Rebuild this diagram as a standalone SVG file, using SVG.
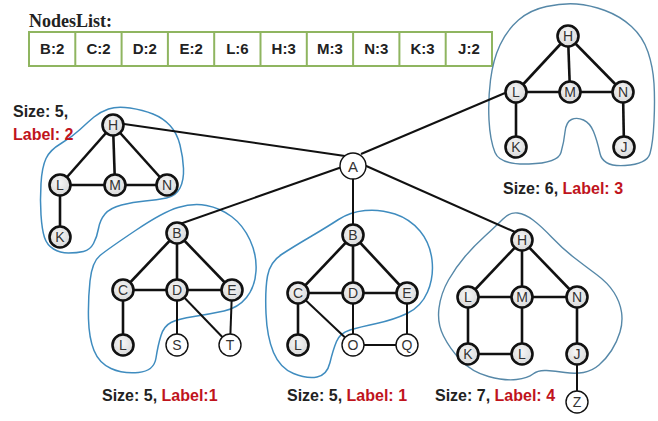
<svg xmlns="http://www.w3.org/2000/svg" width="658" height="421" viewBox="0 0 658 421">
<defs>
<radialGradient id="ng" cx="0.45" cy="0.4" r="0.6">
<stop offset="0" stop-color="#f7f7f7"/>
<stop offset="1" stop-color="#d9d9d9"/>
</radialGradient>
</defs>
<style>
.n circle{fill:url(#ng);stroke:#111;stroke-width:2.6}
.w circle{fill:#fff;stroke:#111;stroke-width:1.4}
.n text,.w text{font-family:"Liberation Sans",Arial,sans-serif;font-size:14px;fill:#333;text-anchor:middle}
.e line{stroke:#111;stroke-width:2.6}
.a line{stroke:#111;stroke-width:2}
.blob{fill:none;stroke:#3f8cbf;stroke-width:1.5}
.blob2{fill:none;stroke:#5688a8;stroke-width:1.4}
.lbl{font-family:"Liberation Sans",Arial,sans-serif;font-size:16px;font-weight:bold;fill:#222}
.red{fill:#c0141c}
.cell{font-family:"Liberation Sans",Arial,sans-serif;font-size:15px;font-weight:bold;fill:#222;text-anchor:middle}
.tb{fill:#fff;stroke:#8fb560;stroke-width:2}
</style>
<rect width="658" height="421" fill="#fff"/>

<g id="nodeslist">
<text x="29" y="27" font-family="Liberation Serif,Times New Roman,serif" font-size="18" font-weight="bold" fill="#222">NodesList:</text>
<rect class="tb" x="29" y="32" width="463" height="34"/>
<g stroke="#8fb560" stroke-width="2">
<line x1="75.3" y1="32" x2="75.3" y2="66"/><line x1="121.6" y1="32" x2="121.6" y2="66"/><line x1="167.9" y1="32" x2="167.9" y2="66"/><line x1="214.2" y1="32" x2="214.2" y2="66"/><line x1="260.5" y1="32" x2="260.5" y2="66"/><line x1="306.8" y1="32" x2="306.8" y2="66"/><line x1="353.1" y1="32" x2="353.1" y2="66"/><line x1="399.4" y1="32" x2="399.4" y2="66"/><line x1="445.7" y1="32" x2="445.7" y2="66"/>
</g>
<text class="cell" x="52.2" y="54">B:2</text><text class="cell" x="98.5" y="54">C:2</text><text class="cell" x="144.8" y="54">D:2</text><text class="cell" x="191.1" y="54">E:2</text><text class="cell" x="237.4" y="54">L:6</text><text class="cell" x="283.7" y="54">H:3</text><text class="cell" x="330" y="54">M:3</text><text class="cell" x="376.3" y="54">N:3</text><text class="cell" x="422.6" y="54">K:3</text><text class="cell" x="468.9" y="54">J:2</text>
</g>

<g id="outlines">
<path class="blob2" d="M546.5,6.5 Q563,3 576.5,4 Q590,5 605,10.5 Q620,16 631.5,26.5 Q643,37 648,52 Q653,67 654,83.5 Q655,100 654,121.5 Q653,143 650,153.5 Q647,164 625,165.5 Q603,167 600,153.5 Q597,140 593.5,131.5 Q590,123 583.5,120 Q577,117 571.5,119.5 Q566,122 565,132 Q564,142 561,152.5 Q558,163 529,164 Q500,165 495,152.5 Q490,140 489,120 Q488,100 490.5,80 Q493,60 500,45 Q507,30 518.5,20 Q530,10 546.5,6.5 Z"/>
<path class="blob" d="M94,117 Q100,112 108.5,109 Q117,106 130,108 Q143,110 153,114 Q163,118 170,125.5 Q177,133 180,145 Q183,157 183.5,168.5 Q184,180 180,188 Q176,196 166.5,198 Q157,200 145,201 Q133,202 121.5,205 Q110,208 105,214 Q100,220 98.5,228.5 Q97,237 93.5,243.5 Q90,250 83.5,251.5 Q77,253 68.5,253 Q60,253 53.5,249 Q47,245 44.5,237.5 Q42,230 41,215 Q40,200 41,183.5 Q42,167 46,158.5 Q50,150 61,143.5 Q72,137 80,129.5 Q88,122 94,117 Z"/>
<path class="blob" d="M90,281 Q92,262 100,255.5 Q108,249 135.5,230.5 Q163,212 178,207.5 Q193,203 206.5,205.5 Q220,208 231.5,216.5 Q243,225 250,240 Q257,255 256,271 Q255,287 246.5,297.5 Q238,308 224,311 Q210,314 194,316.5 Q178,319 171,322.5 Q164,326 161,335.5 Q158,345 156,358 Q154,371 138.5,372.5 Q123,374 111,368.5 Q99,363 94,350.5 Q89,338 88.5,319 Q88,300 90,281 Z"/>
<path class="blob" d="M267.5,276 Q270,262 281.5,254.5 Q293,247 310,237 Q327,227 338.5,219.5 Q350,212 365,210.5 Q380,209 395,214 Q410,219 420,231 Q430,243 432,260 Q434,277 427.5,292 Q421,307 407,313.5 Q393,320 376.5,323.5 Q360,327 350,330 Q340,333 336.5,341.5 Q333,350 330,362.5 Q327,375 317,377 Q307,379 293.5,373.5 Q280,368 273.5,352.5 Q267,337 266,313.5 Q265,290 267.5,276 Z"/>
<path class="blob2" d="M503,219 Q510,212 517.5,213 Q525,214 533,220 Q541,226 552,237.5 Q563,249 574,257.5 Q585,266 596.5,274.5 Q608,283 614,292.5 Q620,302 621.5,312 Q623,322 620,332 Q617,342 611.5,350.5 Q606,359 599,365 Q592,371 583.5,372.5 Q575,374 565,372.5 Q555,371 546.5,370.5 Q538,370 533,374 Q528,378 516.5,379.5 Q505,381 488.5,376.5 Q472,372 461,360.5 Q450,349 443.5,336 Q437,323 439,308 Q441,293 448.5,280 Q456,267 465,256.5 Q474,246 485,236 Q496,226 503,219 Z"/>
</g>

<g id="connectors">
<g class="a">
<line x1="124" y1="124" x2="345" y2="156"/>
<line x1="361" y1="154" x2="505" y2="93"/>
<line x1="177" y1="225" x2="342" y2="167"/>
<line x1="353" y1="175" x2="353" y2="235"/>
<line x1="364" y1="165" x2="515" y2="232"/>
</g>
<g class="e">
<line x1="568" y1="36" x2="516" y2="92"/><line x1="568" y1="36" x2="570" y2="92"/><line x1="568" y1="36" x2="623" y2="92"/><line x1="516" y1="92" x2="623" y2="92"/><line x1="516" y1="92" x2="516" y2="147"/><line x1="623" y1="92" x2="624" y2="147"/>
<line x1="113" y1="125" x2="60" y2="185"/><line x1="113" y1="125" x2="115" y2="185"/><line x1="113" y1="125" x2="167" y2="185"/><line x1="60" y1="185" x2="167" y2="185"/><line x1="60" y1="185" x2="60" y2="237"/>
<line x1="177" y1="233" x2="123" y2="290"/><line x1="177" y1="233" x2="177" y2="290"/><line x1="177" y1="233" x2="232" y2="290"/><line x1="123" y1="290" x2="232" y2="290"/><line x1="123" y1="290" x2="123" y2="345"/>
<line x1="353" y1="235" x2="298" y2="293"/><line x1="353" y1="235" x2="353" y2="293"/><line x1="353" y1="235" x2="407" y2="293"/><line x1="298" y1="293" x2="407" y2="293"/><line x1="298" y1="293" x2="298" y2="345"/>
<line x1="522" y1="240" x2="468" y2="297"/><line x1="522" y1="240" x2="522" y2="297"/><line x1="522" y1="240" x2="577" y2="297"/><line x1="468" y1="297" x2="577" y2="297"/><line x1="468" y1="297" x2="468" y2="354"/><line x1="522" y1="297" x2="522" y2="354"/><line x1="468" y1="354" x2="522" y2="354"/><line x1="577" y1="297" x2="577" y2="354"/>
</g>
<g class="a">
<line x1="177" y1="290" x2="177" y2="345"/><line x1="177" y1="290" x2="230" y2="345"/><line x1="232" y1="290" x2="230" y2="345"/>
<line x1="298" y1="293" x2="353" y2="345"/><line x1="353" y1="293" x2="353" y2="345"/><line x1="407" y1="293" x2="407" y2="345"/><line x1="353" y1="345" x2="407" y2="345"/>
<line x1="577" y1="354" x2="577" y2="402"/>
</g>
</g>

<g id="A" class="w"><circle cx="353" cy="166" r="13"/><text x="353" y="171.5" style="font-size:15px">A</text></g>

<g id="tr-H" class="n"><circle cx="568" cy="36" r="10.5"/><text x="568" y="41">H</text></g>
<g id="tr-L" class="n"><circle cx="516" cy="92" r="10.5"/><text x="516" y="97">L</text></g>
<g id="tr-M" class="n"><circle cx="570" cy="92" r="10.5"/><text x="570" y="97">M</text></g>
<g id="tr-N" class="n"><circle cx="623" cy="92" r="10.5"/><text x="623" y="97">N</text></g>
<g id="tr-K" class="n"><circle cx="516" cy="147" r="10.5"/><text x="516" y="152">K</text></g>
<g id="tr-J" class="n"><circle cx="624" cy="147" r="10.5"/><text x="624" y="152">J</text></g>

<g id="l-H" class="n"><circle cx="113" cy="125" r="10.5"/><text x="113" y="130">H</text></g>
<g id="l-L" class="n"><circle cx="60" cy="185" r="10.5"/><text x="60" y="190">L</text></g>
<g id="l-M" class="n"><circle cx="115" cy="185" r="10.5"/><text x="115" y="190">M</text></g>
<g id="l-N" class="n"><circle cx="167" cy="185" r="10.5"/><text x="167" y="190">N</text></g>
<g id="l-K" class="n"><circle cx="60" cy="237" r="10.5"/><text x="60" y="242">K</text></g>

<g id="bl-B" class="n"><circle cx="177" cy="233" r="10.5"/><text x="177" y="238">B</text></g>
<g id="bl-C" class="n"><circle cx="123" cy="290" r="10.5"/><text x="123" y="295">C</text></g>
<g id="bl-D" class="n"><circle cx="177" cy="290" r="10.5"/><text x="177" y="295">D</text></g>
<g id="bl-E" class="n"><circle cx="232" cy="290" r="10.5"/><text x="232" y="295">E</text></g>
<g id="bl-L" class="n"><circle cx="123" cy="345" r="10.5"/><text x="123" y="350">L</text></g>
<g id="bl-S" class="w"><circle cx="177" cy="345" r="11"/><text x="177" y="350">S</text></g>
<g id="bl-T" class="w"><circle cx="230" cy="345" r="11"/><text x="230" y="350">T</text></g>

<g id="bm-B" class="n"><circle cx="353" cy="235" r="10.5"/><text x="353" y="240">B</text></g>
<g id="bm-C" class="n"><circle cx="298" cy="293" r="10.5"/><text x="298" y="298">C</text></g>
<g id="bm-D" class="n"><circle cx="353" cy="293" r="10.5"/><text x="353" y="298">D</text></g>
<g id="bm-E" class="n"><circle cx="407" cy="293" r="10.5"/><text x="407" y="298">E</text></g>
<g id="bm-L" class="n"><circle cx="298" cy="345" r="10.5"/><text x="298" y="350">L</text></g>
<g id="bm-O" class="w"><circle cx="353" cy="345" r="11"/><text x="353" y="350">O</text></g>
<g id="bm-Q" class="w"><circle cx="407" cy="345" r="11"/><text x="407" y="350">Q</text></g>

<g id="br-H" class="n"><circle cx="522" cy="240" r="10.5"/><text x="522" y="245">H</text></g>
<g id="br-L" class="n"><circle cx="468" cy="297" r="10.5"/><text x="468" y="302">L</text></g>
<g id="br-M" class="n"><circle cx="522" cy="297" r="10.5"/><text x="522" y="302">M</text></g>
<g id="br-N" class="n"><circle cx="577" cy="297" r="10.5"/><text x="577" y="302">N</text></g>
<g id="br-K" class="n"><circle cx="468" cy="354" r="10.5"/><text x="468" y="359">K</text></g>
<g id="br-L2" class="n"><circle cx="522" cy="354" r="10.5"/><text x="522" y="359">L</text></g>
<g id="br-J" class="n"><circle cx="577" cy="354" r="10.5"/><text x="577" y="359">J</text></g>
<g id="br-Z" class="w"><circle cx="577" cy="402" r="11"/><text x="577" y="407">Z</text></g>

<g id="labels">
<text class="lbl" x="503" y="194">Size: 6, <tspan class="red">Label: 3</tspan></text>
<text class="lbl" x="13" y="117">Size: 5,</text>
<text class="lbl red" x="13" y="140">Label: 2</text>
<text class="lbl" x="102" y="401">Size: 5, <tspan class="red">Label:1</tspan></text>
<text class="lbl" x="287" y="401">Size: 5, <tspan class="red">Label: 1</tspan></text>
<text class="lbl" x="435" y="401">Size: 7, <tspan class="red">Label: 4</tspan></text>
</g>
</svg>
